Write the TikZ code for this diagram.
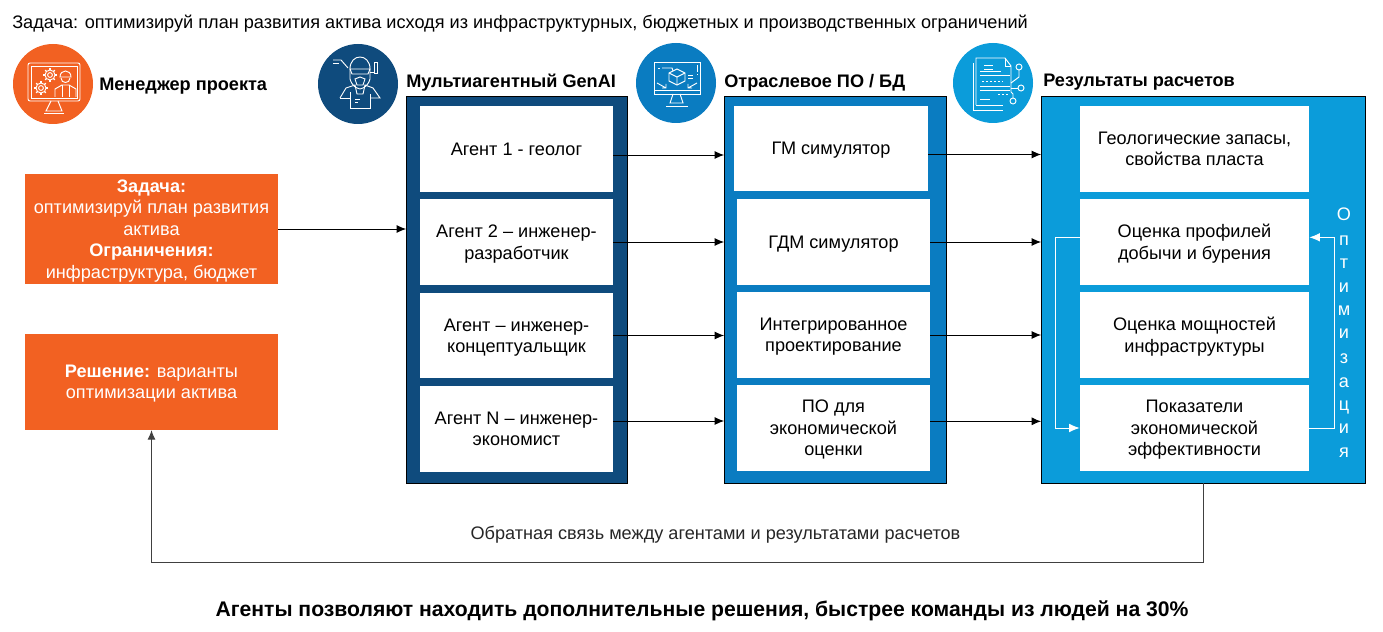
\documentclass[tikz,border=0pt]{standalone}
\usepackage{fontspec}
\setmainfont{Liberation Sans}
\usetikzlibrary{positioning,arrows.meta}
\definecolor{orangeM}{HTML}{F26122}
\definecolor{blueA}{HTML}{0F4B7D}
\definecolor{blueP}{HTML}{0A7CC1}
\definecolor{blueR}{HTML}{0B9CDA}
\definecolor{lineG}{HTML}{404040}
\newcommand{\gearmark}[2]{%
	\draw [icon] (#1,#2) circle (2.4);
	\draw [icon] (#1,#2) circle (5);
	\foreach \ang in {0,45,...,315}
		\draw [icon,line width=1pt] (#1,#2) ++(\ang:5) -- ++(\ang:1.8);
}
\tikzset{
	whitebox/.style={fill=white,inner sep=0pt,align=center,text depth=0pt,font=\fontsize{13.6}{16.1}\selectfont},
	panel/.style={draw=black,line width=0.55pt,inner sep=0pt},
	orangebox/.style={fill=orangeM,text=white,inner sep=0pt,align=center,text depth=0pt,font=\fontsize{13.6}{16.1}\selectfont},
	head/.style={font=\bfseries\fontsize{13.6}{15}\selectfont,anchor=base west,inner sep=0pt},
	iconbg/.style={circle,inner sep=0pt,minimum size=60pt},
	flow/.style={line width=0.7pt,-{Latex[length=7pt,width=6pt]}},
	optflow/.style={white,line width=0.7pt,-{Latex[length=8pt,width=6.5pt]}},
	icon/.style={white,line width=0.7pt},
	optletter/.style={text=white,font=\fontsize{13.6}{15}\selectfont,inner sep=0pt,anchor=base}
}
\begin{document}
\begin{tikzpicture}[x=0.75pt,y=-0.75pt]
	\useasboundingbox (0,0) rectangle (1383,631);

	% title lines
	\node [anchor=base west,inner sep=0pt,font=\fontsize{13.6}{15}\selectfont] (task) at (12,29) {Задача: оптимизируй план развития актива исходя из инфраструктурных, бюджетных и производственных ограничений};
	\node [inner sep=0pt,font=\bfseries\fontsize{15.87}{18}\selectfont] (summary) at (702,611) {Агенты позволяют находить дополнительные решения, быстрее команды из людей на 30\%};

	% circles
	\node [iconbg,fill=orangeM] (mgr) at (53,84) {};
	\node [iconbg,fill=blueA] (gen) at (358,84) {};
	\node [iconbg,fill=blueP] (sft) at (676,83) {};
	\node [iconbg,fill=blueR] (res) at (993,83) {};

	% manager icon
	\begin{scope}[shift={(mgr.center)}]
		\draw [icon,rounded corners=1.5pt] (-25,-21) rectangle (27,17);
		\draw [icon] (-22,-18) rectangle (24,14);
		\draw [icon] (-2,17) -- (-7,27) -- (9,27) -- (5,17);
		\draw [icon] (-9,29) -- (11,29);
		\gearmark{-3}{-9}
		\gearmark{-12}{4}
		\draw [icon] (7,-7) .. controls (7,-15) and (18,-15) .. (18,-7) -- cycle;
		\draw [icon] (8,-6) .. controls (8,0) and (17,0) .. (17,-6);
		\draw [icon] (2,13) -- (2,5) -- (9,1) -- (16,1) -- (23,5) -- (23,13);
		\draw [icon] (9,1) -- (9,13) (16,1) -- (16,13);
	\end{scope}

	% agent icon
	\begin{scope}[shift={(gen.center)}]
		\draw [icon] (-25,-24) -- (-17,-24) -- (-10,-16);
		\draw [icon] (-25,-21) -- (-19,-21);
		\draw [icon] (-8,-15) .. controls (-8,-31) and (12,-31) .. (12,-15) -- (12,-5) .. controls (10,2) and (6,4) .. (2,5) .. controls (-2,4) and (-6,2) .. (-8,-5) -- cycle;
		\draw [icon] (-8,-15) -- (12,-15) -- (10,-10) -- (-6,-10) -- cycle;
		\draw [icon] (-3,-5) -- (2,-7) -- (7,-5) -- (5,1) -- (-1,1) -- cycle;
		\draw [icon] (16,-22) -- (16,-11) -- (19,-11) -- (19,-22) -- cycle;
		\draw [icon] (12,-12) -- (16,-12);
		\draw [icon] (-18,14) -- (-12,4) -- (-3,1) -- (-1,10) -- (5,10) -- (7,1) -- (15,4) -- (22,14) -- (13,14);
		\draw [icon] (-18,14) -- (-8,14) -- (-8,24) -- (12,24) -- (12,10);
		\draw [icon] (-8,14) -- (-8,8);
		\draw [icon] (-3,15) -- (2,15) (-3,18) -- (0,18);
	\end{scope}

	% software icon
	\begin{scope}[shift={(sft.center)}]
		\draw [icon] (-22,-21) rectangle (24,11);
		\draw [icon] (-22,7) -- (24,7);
		\draw [icon] (-3,11) -- (-6,20) -- (7,20) -- (4,11);
		\draw [icon] (-10,23) -- (12,23);
		\draw [icon] (1,-14) -- (9,-10) -- (9,-2) -- (1,2) -- (-7,-2) -- (-7,-10) -- cycle;
		\draw [icon] (-7,-10) -- (1,-6) -- (9,-10) (1,-6) -- (1,2);
		\draw [icon] (-14,-15) -- (-4,-15) -- (-3,-12);
		\draw [icon] (-18,-15) -- (-16,-15);
		\draw [icon] (12,-8) -- (17,-8) (12,-5) -- (17,-5);
		\draw [icon] (21,-18) -- (21,-11) (21,-9) -- (21,-8);
		\draw [icon] (-19,0) -- (-10,5) (-14,5) -- (-10,5) -- (-10,1);
		\draw [icon] (21,0) -- (12,5) (16,5) -- (12,5) -- (12,1);
	\end{scope}

	% results icon
	\begin{scope}[shift={(res.center)}]
		\draw [icon] (-17,22) -- (-17,-25) -- (12,-25) -- (18,-17) -- (18,9);
		\draw [icon] (12,-25) -- (12,-17) -- (18,-17);
		\draw [icon] (-20,-20) -- (-20,27) -- (10,27);
		\draw [icon] (-17,22) -- (10,22);
		\foreach \yy/\xa/\xb in {-18/-9/0,-14/-9/0,-12/-13/8,-8/-13/17,3/-13/17,7/-13/17,16/-13/-3}
			\draw [icon] (\xa,\yy) -- (\xb,\yy);
		\draw [icon,dashed,dash pattern=on 1.5pt off 1.5pt] (-11,-2) -- (10,-2);
		\draw [icon,dashed,dash pattern=on 1.5pt off 1.5pt] (5,11) -- (16,11);
		\draw [icon] (26,-16) circle (3);
		\draw [icon] (28,5) circle (3);
		\draw [icon] (20,18) circle (3);
		\draw [icon] (18,5) -- (25,5);
		\draw [icon] (26,-13) -- (26,-6) -- (18,0);
		\draw [icon] (20,15) -- (20,11) -- (18,9);
	\end{scope}

	% headers
	\node [head] (mgrT) at (99,91) {Менеджер проекта};
	\node [head] (genT) at (406,87.5) {Мультиагентный GenAI};
	\node [head] (sftT) at (724,87.5) {Отраслевое ПО / БД};
	\node [head] (resT) at (1043,86.5) {Результаты расчетов};

	% panels
	\path [panel,fill=blueA] (406,96) rectangle (627,483);
	\path [panel,fill=blueP] (724,96) rectangle (946,483);
	\path [panel,fill=blueR] (1041,96) rectangle (1365,483);
	\coordinate (genP) at (406,96);
	\coordinate (sftP) at (724,96);
	\coordinate (resP) at (1041,96);
	\coordinate (resB) at (1203,483);

	% agents
	\foreach \nm/\yy/\hh/\txt in {ag1/149/86/{Агент 1 - геолог},ag2/242/86/{Агент 2 – инженер-\\разработчик},ag3/335.5/85/{Агент – инженер-\\концептуальщик},ag4/429/86/{Агент N – инженер-\\экономист}}
		\node [whitebox,minimum width=145pt,minimum height=\hh*0.75pt] (\nm) at (516.5,\yy) {\txt};

	% software
	\node [whitebox,minimum width=145.5pt,minimum height=63.75pt] (po1) at (831,148.5) {ГМ симулятор};
	\foreach \nm/\yy/\txt in {po2/242/{ГДМ симулятор},po3/335/{Интегрированное\\проектирование},po4/428/{ПО для\\экономической\\оценки}}
		\node [whitebox,minimum width=144.75pt,minimum height=64.5pt] (\nm) at (833.5,\yy) {\txt};

	% results
	\foreach \nm/\yy/\txt in {rs1/149/{Геологические запасы,\\свойства пласта},rs2/242/{Оценка профилей\\добычи и бурения},rs3/335/{Оценка мощностей\\инфраструктуры},rs4/428/{Показатели\\экономической\\эффективности}}
		\node [whitebox,minimum width=171.75pt,minimum height=64.5pt] (\nm) at (1194.5,\yy) {\txt};

	% orange boxes
	\node [orangebox,minimum width=189.75pt,minimum height=82.5pt] (goal) at (151.5,229) {\textbf{Задача:}\\оптимизируй план развития\\актива\\\textbf{Ограничения:}\\инфраструктура, бюджет};
	\node [orangebox,minimum width=189.75pt,minimum height=72pt] (sol) at (151.5,382) {\textbf{Решение:} варианты\\оптимизации актива};

	% arrows
	\draw [flow] (goal.east) -- (goal.east -| genP);
	\draw [flow] ([yshift=-4.5pt]ag1.east) -- ([yshift=-4.5pt]ag1.east -| sftP);
	\draw [flow] (ag2.east) -- (ag2.east -| sftP);
	\draw [flow] (ag3.east) -- (ag3.east -| sftP);
	\draw [flow] ([yshift=6pt]ag4.east) -- ([yshift=6pt]ag4.east -| sftP);
	\draw [flow] ([yshift=-4.5pt]po1.east) -- ([yshift=-4.5pt]po1.east -| resP);
	\draw [flow] (po2.east) -- (po2.east -| resP);
	\draw [flow] (po3.east) -- (po3.east -| resP);
	\draw [flow] ([yshift=5pt]po4.east) -- ([yshift=5pt]po4.east -| resP);

	% feedback
	\draw [flow,lineG] (resB) -- ++(0,79) -| (sol.south);
	\node [inner sep=0pt,font=\fontsize{13.6}{15}\selectfont,text=black!85] (fbT) at (715.5,535) {Обратная связь между агентами и результатами расчетов};

	% optimisation
	\draw [optflow] ([yshift=3.5pt]rs2.west) -- ++(-24,0) |- (rs4.west);
	\draw [optflow] (rs4.east) -- ++(25,0) |- ([yshift=3.5pt]rs2.east);
	\foreach \nm/\yy/\ltr in {o1/220/О,o2/245/п,o3/268/т,o4/292/и,o5/315/м,o6/338/и,o7/363/з,o8/387/а,o9/410/ц,o10/433/и,o11/457/я}
		\node [optletter] (\nm) at (1344,\yy) {\ltr};
\end{tikzpicture}
\end{document}
